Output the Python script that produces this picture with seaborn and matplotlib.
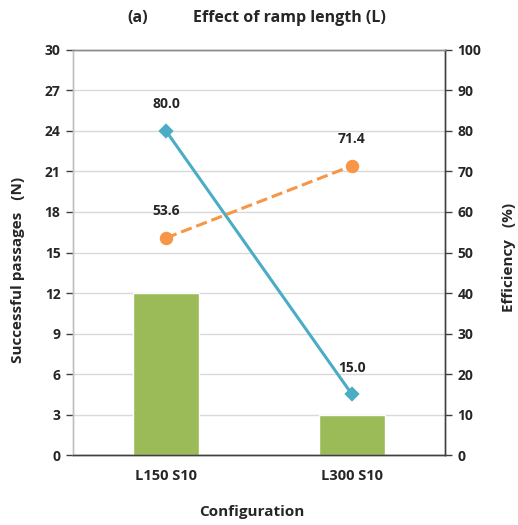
import matplotlib
matplotlib.use("Agg")
import matplotlib.pyplot as plt
import seaborn as sns
import pandas as pd

configs = ["L150 S10", "L300 S10"]
passages = [12, 3]
eff_blue = [80.0, 15.0]
eff_orange = [53.6, 71.4]
left_ticks = [0, 3, 6, 9, 12, 15, 18, 21, 24, 27, 30]
right_ticks = [0, 10, 20, 30, 40, 50, 60, 70, 80, 90, 100]

sns.set_theme(style="white")
plt.rcParams['font.family'] = ['Open Sans', 'DejaVu Sans']
plt.rcParams['font.weight'] = 'bold'

GREEN = "#9BBB59"
BLUE = "#4BACC6"
ORANGE = "#F79646"
DARK = "#404040"
TXT = "#262626"

fig = plt.figure(figsize=(5.18, 5.25), dpi=100)
ax = fig.add_axes([0.141, 0.133, 0.718, 0.772])

df = pd.DataFrame({"config": configs, "passages": passages,
                   "blue": eff_blue, "orange": eff_orange})

sns.barplot(data=df, x="config", y="passages", ax=ax, color=GREEN,
            width=0.355, saturation=1, zorder=2)
ax.set_ylim(0, 30)
ax.set_yticks(left_ticks)
ax.yaxis.grid(True, color="#D9D9D9", linewidth=1, zorder=0)
ax.set_axisbelow(True)

ax2 = ax.twinx()
sns.pointplot(data=df, x="config", y="blue", ax=ax2, color=BLUE,
              markers="D", linestyles="-", markersize=6.5, linewidth=2.2)
sns.pointplot(data=df, x="config", y="orange", ax=ax2, color=ORANGE,
              markers="o", linestyles="--", markersize=8, linewidth=2.2)
ax2.set_ylim(0, 100)
ax2.set_yticks(right_ticks)
ax.set_xlim(-0.5, 1.5)
ax2.set_xlim(-0.5, 1.5)

for i, v in enumerate(eff_blue):
    ax2.annotate(f"{v:.1f}", (i, v), xytext=(0, 14), textcoords="offset points",
                 ha="center", va="bottom", fontsize=10, fontweight="bold", color=TXT)
for i, v in enumerate(eff_orange):
    ax2.annotate(f"{v:.1f}", (i, v), xytext=(0, 14), textcoords="offset points",
                 ha="center", va="bottom", fontsize=10, fontweight="bold", color=TXT)

for a in (ax, ax2):
    for s in a.spines.values():
        s.set_color(DARK)
        s.set_linewidth(1)
    a.tick_params(axis="y", length=5, width=1, color=DARK, labelsize=10,
                  labelcolor=TXT, pad=4)
    for lbl in a.get_yticklabels():
        lbl.set_fontweight("bold")
ax.spines["top"].set_color("#8C8C8C")
ax2.spines["top"].set_color("#8C8C8C")
ax.spines["left"].set_color("#BFBFBF")
ax2.spines["left"].set_color("#BFBFBF")
ax.tick_params(axis="x", length=0, labelsize=10.5, labelcolor=TXT, pad=10)
for lbl in ax.get_xticklabels():
    lbl.set_fontweight("bold")
ax.tick_params(axis="y", left=True)
ax2.tick_params(axis="y", right=True)

ax.set_xlabel("Configuration", fontsize=11, fontweight="bold", color=TXT)
ax.set_ylabel("Successful passages   (N)", fontsize=11, fontweight="bold", color=TXT)
ax2.set_ylabel("Efficiency   (%)", fontsize=11, fontweight="bold", color=TXT)
ax2.set_xlabel("")
ax.xaxis.label.set_va("center")
ax.yaxis.label.set_va("center")
ax2.yaxis.label.set_va("center")
ax.xaxis.set_label_coords(0.481, -0.141)
ax.yaxis.set_label_coords(-0.148, 0.457)
ax2.yaxis.set_label_coords(1.172, 0.489)

fig.text(138/518, 1 - 18/525, "(a)", ha="center", va="center",
         fontsize=11.5, fontweight="bold", color=TXT)
fig.text(289/518, 1 - 18/525, "Effect of ramp length (L)", ha="center", va="center",
         fontsize=11.5, fontweight="bold", color=TXT)

fig.savefig("out.png", dpi=100)
